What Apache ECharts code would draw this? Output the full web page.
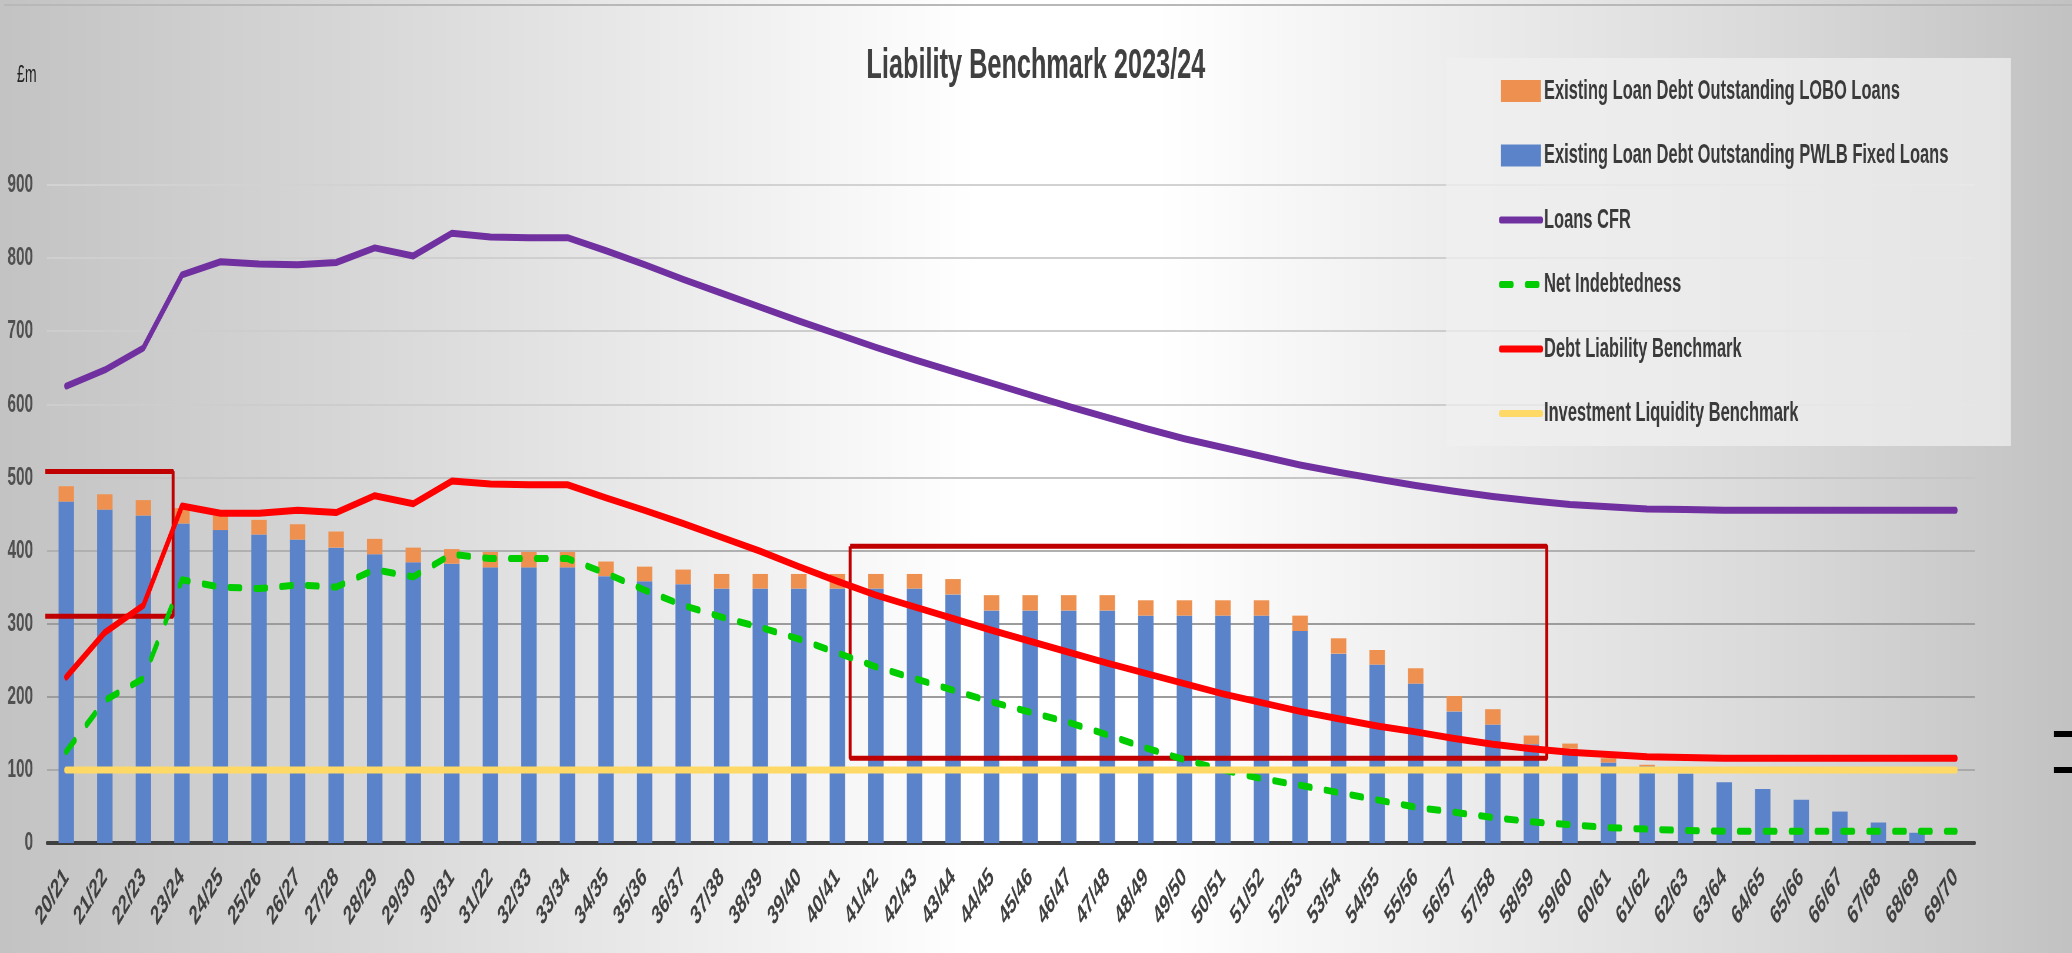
<!DOCTYPE html>
<html>
<head>
<meta charset="utf-8">
<title>Liability Benchmark 2023/24</title>
<script src="https://cdn.jsdelivr.net/npm/echarts@6/dist/echarts.min.js"></script>
<style>
  html, body { margin: 0; padding: 0; overflow: hidden; }
  #wrap { width: 2072px; height: 953px; overflow: hidden; }
  /* the source picture is squeezed sideways, so the chart is drawn wide and scaled down in x */
  #main { height: 953px; transform-origin: 0 0; }
</style>
</head>
<body>
<div id="wrap"><div id="main"></div></div>
<script>
// financial years shown on the x axis (31/22 is as printed)
const years = ['20/21','21/22','22/23','23/24','24/25','25/26','26/27','27/28','28/29','29/30',
  '30/31','31/22','32/33','33/34','34/35','35/36','36/37','37/38','38/39','39/40',
  '40/41','41/42','42/43','43/44','44/45','45/46','46/47','47/48','48/49','49/50',
  '50/51','51/52','52/53','53/54','54/55','55/56','56/57','57/58','58/59','59/60',
  '60/61','61/62','62/63','63/64','64/65','65/66','66/67','67/68','68/69','69/70']

const yTicks = [0, 100, 200, 300, 400, 500, 600, 700, 800, 900]

// £m
const pwlb = [467, 456, 448, 437, 428, 422, 415, 404, 395, 384,
  382, 377, 377, 377, 365, 358, 354, 348, 348, 348,
  348, 348, 348, 340, 318, 318, 318, 318, 311, 311,
  311, 311, 290, 259, 244, 218, 180, 162, 135, 129,
  110, 105, 95, 83, 74, 59, 43, 28, 14, 0]
const lobo = [21, 21, 21, 21, 20, 20, 21, 22, 21, 20,
  20, 21, 21, 21, 20, 20, 20, 20, 20, 20,
  20, 20, 20, 21, 21, 21, 21, 21, 21, 21,
  21, 21, 21, 21, 20, 21, 21, 21, 12, 7,
  6, 2, 0, 0, 0, 0, 0, 0, 0, 0]
const loansCfr = [625, 647, 677, 777, 795, 792, 791, 794, 814, 803,
  834, 829, 828, 828, 810, 791, 771, 752, 733, 714,
  696, 678, 661, 645, 629, 613, 597, 582, 567, 553,
  541, 529, 517, 507, 498, 489, 481, 474, 468, 463,
  460, 457, 456, 455, 455, 455, 455, 455, 455, 455]
const netIndebtedness = [125, 195, 225, 360, 350, 348, 353, 350, 374, 364,
  395, 389, 389, 389, 369, 346, 325, 309, 295, 279,
  260, 241, 225, 209, 193, 179, 165, 148, 130, 114,
  100, 88, 79, 69, 59, 49, 42, 35, 29, 25,
  21, 19, 17, 16, 16, 16, 16, 16, 16, 16]
const debtLiability = [227, 288, 325, 461, 451, 451, 455, 452, 475, 464,
  495, 491, 490, 490, 472, 455, 437, 418, 399, 378,
  358, 339, 323, 307, 291, 276, 261, 246, 232, 218,
  204, 192, 180, 170, 160, 152, 143, 135, 129, 124,
  121, 118, 117, 116, 116, 116, 116, 116, 116, 116]
const investLiquidity = [100, 100, 100, 100, 100, 100, 100, 100, 100, 100,
  100, 100, 100, 100, 100, 100, 100, 100, 100, 100,
  100, 100, 100, 100, 100, 100, 100, 100, 100, 100,
  100, 100, 100, 100, 100, 100, 100, 100, 100, 100,
  100, 100, 100, 100, 100, 100, 100, 100, 100, 100]

// highlight boxes in data units: [x from, x to (category index), y low, y high]
const boxes = [[-0.8, 2.77, 310, 508], [20.33, 38.4, 116, 406]]

// horizontal squeeze of the picture
const S = 1.7
const X = v => v * S

const FONT = "'Liberation Sans', Arial, sans-serif"
const TXT = '#404040'

const dom = document.getElementById('main')
dom.style.width = X(2072) + 'px'
dom.style.transform = 'scaleX(' + (1 / S) + ')'

const boxSeries = boxes.map((b, i) => ({
  name: 'box' + i,
  type: 'line',
  xAxisIndex: 1,
  symbol: 'none',
  silent: true,
  z: 3,
  lineStyle: { color: '#c00000', width: 5 },
  data: [[b[0], b[3]], [b[1], b[3]], [b[1], b[2]], [b[0], b[2]], [b[0], b[3]]]
}))

// line entries in the legend: hide the marker dot, keep a thick stroke
const lineItem = name => ({
  name: name,
  itemStyle: { opacity: 0 },
  lineStyle: { width: 7, cap: 'round' }
})

const chart = echarts.init(dom)
chart.setOption({
  animation: false,
  backgroundColor: new echarts.graphic.LinearGradient(0, 0, 1, 0, [
    { offset: 0, color: '#c3c3c3' },
    { offset: 0.18, color: '#d8d8d8' },
    { offset: 0.47, color: '#ffffff' },
    { offset: 0.56, color: '#ffffff' },
    { offset: 0.86, color: '#d9d9d9' },
    { offset: 1, color: '#c2c2c2' }
  ]),
  title: [{
    text: 'Liability Benchmark 2023/24',
    left: 'center',
    top: 40,
    textStyle: { fontFamily: FONT, fontSize: 43, fontWeight: 'bold', color: TXT }
  }, {
    text: '£m',
    left: X(14),
    top: 58,
    textStyle: { fontFamily: FONT, fontSize: 24, fontWeight: 'normal', color: '#222' }
  }],
  graphic: [{
    type: 'rect',
    z: 1,
    shape: { x: X(1446), y: 58, width: X(565), height: 388 },
    style: { fill: 'rgba(240,240,240,0.72)' }
  }, {
    type: 'rect',
    z: 1,
    shape: { x: X(4), y: 4, width: X(2068), height: 2 },
    style: { fill: '#b8b8b8' }
  }, {
    type: 'rect',
    z: 1,
    shape: { x: X(2054), y: 731, width: X(18), height: 6 },
    style: { fill: '#000' }
  }, {
    type: 'rect',
    z: 1,
    shape: { x: X(2054), y: 767, width: X(18), height: 6 },
    style: { fill: '#000' }
  }],
  legend: {
    orient: 'vertical',
    left: X(1496),
    top: 72,
    itemWidth: X(40),
    itemHeight: 22,
    itemGap: 36.5,
    textStyle: { fontFamily: FONT, fontSize: 28, fontWeight: 'bold', color: '#3a3a3a', lineHeight: 28 },
    data: [
      { name: 'Existing Loan Debt Outstanding LOBO Loans', icon: 'rect' },
      { name: 'Existing Loan Debt Outstanding PWLB Fixed Loans', icon: 'rect' },
      lineItem('Loans CFR'),
      lineItem('Net Indebtedness'),
      lineItem('Debt Liability Benchmark'),
      lineItem('Investment Liquidity Benchmark')
    ]
  },
  grid: { left: X(47), right: X(97), top: 185, bottom: 110 },
  xAxis: [{
    type: 'category',
    data: years,
    axisTick: { show: false },
    axisLine: { lineStyle: { color: '#404040', width: 4 } },
    axisLabel: {
      interval: 0,
      rotate: 45,
      margin: 30,
      fontFamily: FONT,
      fontSize: 27,
      fontWeight: 'bold',
      color: TXT
    }
  }, {
    type: 'value',
    min: -0.5,
    max: 49.5,
    show: false
  }],
  yAxis: {
    type: 'value',
    min: yTicks[0],
    max: yTicks[yTicks.length - 1],
    interval: 100,
    axisLine: { show: false },
    axisTick: { show: false },
    axisLabel: { margin: X(14), fontFamily: FONT, fontSize: 26, fontWeight: 'bold', color: '#505050' },
    splitLine: {
      lineStyle: {
        width: 2,
        color: ['#404040', '#a9a9a9', '#9c9c9c', '#9c9c9c', '#b0b0b0', '#c6c6c6', '#cdcdcd', '#cdcdcd', '#cfcfcf', '#d2d2d2']
      }
    }
  },
  series: [{
    name: 'Existing Loan Debt Outstanding PWLB Fixed Loans',
    type: 'bar',
    stack: 'debt',
    barWidth: '40%',
    itemStyle: { color: '#5b83ca' },
    data: pwlb
  }, {
    name: 'Existing Loan Debt Outstanding LOBO Loans',
    type: 'bar',
    stack: 'debt',
    barWidth: '40%',
    itemStyle: { color: '#ee9150' },
    data: lobo
  },
  ...boxSeries,
  {
    name: 'Loans CFR',
    type: 'line',
    symbol: 'none',
    z: 4,
    lineStyle: { color: '#7030a0', width: 7, cap: 'round', join: 'round' },
    itemStyle: { color: '#7030a0' },
    data: loansCfr
  }, {
    name: 'Net Indebtedness',
    type: 'line',
    symbol: 'none',
    z: 4,
    lineStyle: { color: '#00cc00', width: 7, type: [18, 26], cap: 'round', join: 'round' },
    itemStyle: { color: '#00cc00' },
    data: netIndebtedness
  }, {
    name: 'Debt Liability Benchmark',
    type: 'line',
    symbol: 'none',
    z: 4,
    lineStyle: { color: '#ff0000', width: 7, cap: 'round', join: 'round' },
    itemStyle: { color: '#ff0000' },
    data: debtLiability
  }, {
    name: 'Investment Liquidity Benchmark',
    type: 'line',
    symbol: 'none',
    z: 4,
    lineStyle: { color: '#ffd966', width: 7, cap: 'round', join: 'round' },
    itemStyle: { color: '#ffd966' },
    data: investLiquidity
  }]
})
</script>
</body>
</html>
